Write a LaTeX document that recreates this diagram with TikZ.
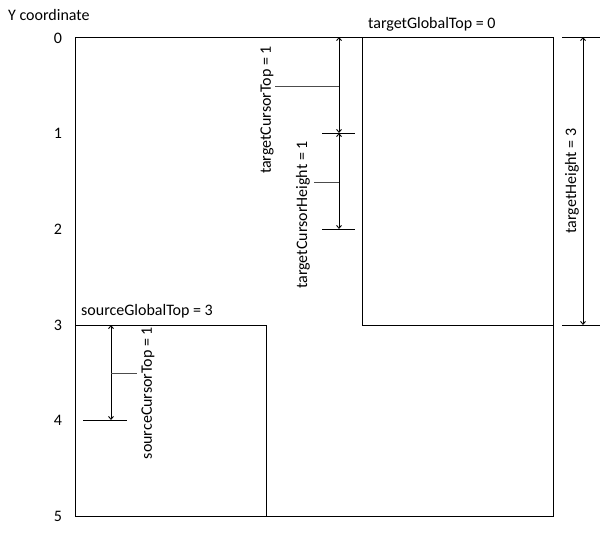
\documentclass[tikz,border=0pt]{standalone}
\usepackage{fontspec}
\setmainfont{Carlito}
\usetikzlibrary{arrows.meta}
\begin{document}
\begin{tikzpicture}[x=1pt,y=-1pt,
  lbl/.style={inner sep=0pt, font=\fontsize{16}{19}\selectfont},
  box/.style={draw=black, line width=1pt},
  dim/.style={{Straight Barb[length=3pt,width=5pt]}-{Straight Barb[length=3pt,width=5pt]}, line width=0.9pt},
  tk/.style={draw=black, line width=0.9pt},
  leader/.style={draw=black!70, line width=0.9pt}]
\useasboundingbox (0,0) rectangle (601,533);

% rectangles
\draw[box] (75,37) rectangle (553,516);
\draw[box] (362,37) rectangle (553,325);
\draw[box] (75,325) rectangle (266,516);

% axis labels
\node[lbl, anchor=west] (ytitle) at (8,15) {Y coordinate};
\node[lbl] (y0) at (58,38) {0};
\node[lbl] (y1) at (58,133) {1};
\node[lbl] (y2) at (58,229) {2};
\node[lbl] (y3) at (58,325) {3};
\node[lbl] (y4) at (58,420) {4};
\node[lbl] (y5) at (58,516) {5};

\node[lbl, anchor=west] (tgt) at (368,24) {targetGlobalTop = 0};
\node[lbl, anchor=west] (sgt) at (81,311) {sourceGlobalTop = 3};

% target cursor dimension
\coordinate (tc0) at (339,37);
\coordinate (tc1) at (339,133);
\coordinate (tc2) at (339,229);
\draw[tk] (322,37) -- (355,37);
\draw[tk] (322,133) -- (355,133);
\draw[tk] (322,229) -- (355,229);
\draw[dim] (tc0) -- (tc1);
\draw[dim] (tc1) -- (tc2);
\node[lbl, rotate=90] (tct) at (267,110) {targetCursorTop = 1};
\node[lbl, rotate=90] (tch) at (303,215) {targetCursorHeight = 1};
\coordinate (tctm) at (339,86);
\coordinate (tchm) at (339,182);
\draw[leader] (275,86) -- (tctm);
\draw[leader] (314,182) -- (tchm);

% target height
\coordinate (th0) at (583,37);
\coordinate (th1) at (583,325);
\draw[tk] (562,37) -- (600,37);
\draw[tk] (562,325) -- (600,325);
\draw[dim] (th0) -- (th1);
\node[lbl, rotate=90] (thl) at (572,181) {targetHeight = 3};

% source cursor top
\coordinate (sc0) at (111,325);
\coordinate (sc1) at (111,420);
\draw[tk] (83,325) -- (127,325);
\draw[tk] (83,420) -- (127,420);
\draw[dim] (sc0) -- (sc1);
\coordinate (scm) at (111,373);
\draw[leader] (scm) -- (137,373);
\node[lbl, rotate=90] (sct) at (148,393) {sourceCursorTop = 1};
\end{tikzpicture}
\end{document}
